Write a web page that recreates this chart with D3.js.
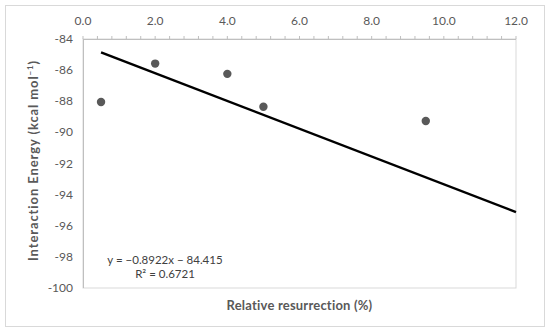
<!DOCTYPE html>
<html><head><meta charset="utf-8">
<script src="https://cdn.jsdelivr.net/npm/d3@7"></script>
<style>body{margin:0;background:#fff}</style>
</head><body>
<svg id="c" width="550" height="331"></svg>
<script>
const xValues = [0.5, 2.0, 4.0, 5.0, 9.5];
const yValues = [-88.05, -85.58, -86.24, -88.35, -89.27];
const xTicks = [0, 2, 4, 6, 8, 10, 12];
const yTicks = [-84, -86, -88, -90, -92, -94, -96, -98, -100];
const slope = -0.8922, intercept = -84.415;
const trendRange = [0.5, 12];
const eqLabel = "y = \u22120.8922x \u2212 84.415";
const r2Label = "R\u00b2 = 0.6721";
const xTitle = "Relative resurrection (%)";

const svg = d3.select("#c");
const font = "Lato, 'Open Sans', sans-serif";
const L = 83, R = 516, T = 39, B = 288;
const x = d3.scaleLinear().domain([0, 12]).range([L, R]);
const y = d3.scaleLinear().domain([-84, -100]).range([T, B]);

svg.append("rect").attr("x", 5.5).attr("y", 5.5).attr("width", 539).attr("height", 321)
  .attr("fill", "#fff").attr("stroke", "#d9d9d9");

// plot area border
svg.append("rect").attr("x", L).attr("y", T).attr("width", R - L).attr("height", B - T)
  .attr("fill", "none").attr("stroke", "#d9d9d9");

// top axis
const minor = d3.range(0, 12.0001, 0.4);
svg.append("g").selectAll("line").data(minor).join("line")
  .attr("x1", d => x(d)).attr("x2", d => x(d)).attr("y1", T).attr("y2", T - 3)
  .attr("stroke", "#bfbfbf");
svg.append("line").attr("x1", L).attr("x2", R).attr("y1", T + 0.5).attr("y2", T + 0.5).attr("stroke", "#bfbfbf");
svg.append("g").selectAll("text").data(xTicks).join("text")
  .attr("x", d => x(d)).attr("y", 25).attr("text-anchor", "middle")
  .attr("font-family", font).attr("font-size", 12).attr("fill", "#595959")
  .text(d => d.toFixed(1));

// left axis
svg.append("line").attr("x1", L + 0.5).attr("x2", L + 0.5).attr("y1", T).attr("y2", B).attr("stroke", "#bfbfbf");
svg.append("g").selectAll("text").data(yTicks).join("text")
  .attr("x", 73).attr("y", d => y(d) + 4).attr("text-anchor", "end")
  .attr("font-family", font).attr("font-size", 12).attr("fill", "#595959")
  .text(d => d);

// trendline
svg.append("line")
  .attr("x1", x(trendRange[0])).attr("y1", y(slope * trendRange[0] + intercept))
  .attr("x2", x(trendRange[1])).attr("y2", y(slope * trendRange[1] + intercept))
  .attr("stroke", "#000").attr("stroke-width", 2.5);

// points
svg.append("g").selectAll("circle").data(xValues).join("circle")
  .attr("cx", d => x(d)).attr("cy", (d, i) => y(yValues[i])).attr("r", 4.2)
  .attr("fill", "#595959");

// equation
svg.append("text").attr("x", 165).attr("y", 264).attr("text-anchor", "middle")
  .attr("font-family", font).attr("font-size", 11.5).attr("fill", "#404040").text(eqLabel);
svg.append("text").attr("x", 165).attr("y", 278).attr("text-anchor", "middle")
  .attr("font-family", font).attr("font-size", 11.5).attr("fill", "#404040").text(r2Label);

// axis titles
svg.append("text").attr("x", (L + R) / 2).attr("y", 310).attr("text-anchor", "middle")
  .attr("font-family", font).attr("font-size", 13).attr("font-weight", "bold").attr("fill", "#595959")
  .attr("letter-spacing", 0.2)
  .text(xTitle);
const yt = svg.append("text").attr("transform", `translate(38,${(T + B) / 2 - 3}) rotate(-90)`)
  .attr("text-anchor", "middle").attr("font-family", font).attr("font-size", 13)
  .attr("letter-spacing", 0.9)
  .attr("font-weight", "bold").attr("fill", "#595959");
yt.append("tspan").text("Interaction Energy (kcal mol");
yt.append("tspan").attr("font-size", 8).attr("dy", -5).text("\u22121");
yt.append("tspan").attr("dy", 5).text(")");
</script>
</body></html>
